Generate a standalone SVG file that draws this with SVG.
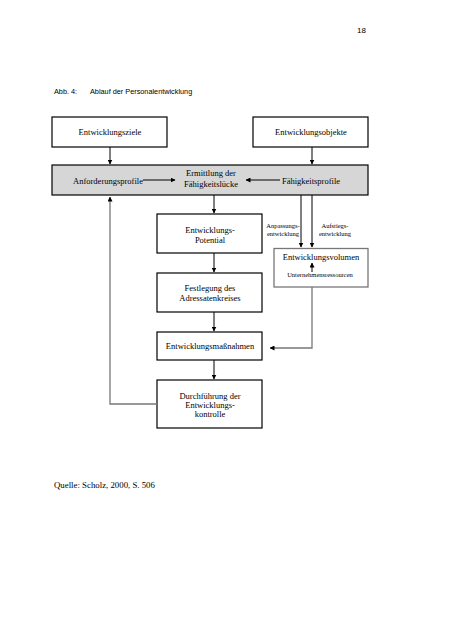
<svg xmlns="http://www.w3.org/2000/svg" width="452" height="640" viewBox="0 0 452 640">
<style>
.box{fill:#fff;stroke:#000;stroke-width:1.2}
.t{font-family:"Liberation Serif","Times New Roman",serif;font-size:8.5px;fill:#000;text-anchor:middle}
.s{font-family:"Liberation Serif","Times New Roman",serif;font-size:6.5px;fill:#000;text-anchor:middle}
.h{font-family:"Liberation Sans",Arial,sans-serif;font-size:7.3px;fill:#000}
.c{fill:none;stroke:#000;stroke-width:1}
.g{fill:none;stroke:#777;stroke-width:1.3}
</style>
<defs>
<marker id="a" viewBox="0 0 10 10" refX="9" refY="5" markerWidth="5" markerHeight="5" orient="auto" markerUnits="userSpaceOnUse">
<path d="M0,0 L10,5 L0,10 z" fill="#000"/>
</marker>
</defs>
<rect width="452" height="640" fill="#fff"/>
<text x="357" y="33" class="h" style="font-size:8px">18</text>
<text x="54" y="94" class="h">Abb. 4:</text>
<text x="90" y="94" class="h">Ablauf der Personalentwicklung</text>

<g id="n-ziele"><rect class="box" x="52" y="117" width="115" height="30"/><text class="t" x="110" y="135">Entwicklungsziele</text></g>
<g id="n-objekte"><rect class="box" x="253" y="117" width="115" height="30"/><text class="t" x="311" y="135">Entwicklungsobjekte</text></g>
<g id="n-gray"><rect x="52" y="165" width="316" height="30" fill="#d6d6d6" stroke="#000" stroke-width="1.2"/></g>
<g id="n-anf"><text class="t" x="108" y="183.5">Anforderungsprofile</text></g>
<g id="n-ermittlung"><text class="t" x="211" y="176">Ermittlung der</text><text class="t" x="211" y="187">Fähigkeitslücke</text></g>
<g id="n-faehig"><text class="t" x="311" y="183.5">Fähigkeitsprofile</text></g>
<g id="n-potential"><rect class="box" x="157" y="214" width="105" height="39"/><text class="t" x="210" y="233">Entwicklungs-</text><text class="t" x="210" y="242.5">Potential</text></g>
<g id="n-festlegung"><rect class="box" x="157" y="273" width="105" height="39"/><text class="t" x="210" y="291">Festlegung des</text><text class="t" x="210" y="301">Adressatenkreises</text></g>
<g id="n-massnahmen"><rect class="box" x="157" y="332" width="105" height="28"/><text class="t" x="210" y="349">Entwicklungsmaßnahmen</text></g>
<g id="n-durch"><rect class="box" x="157" y="380" width="105" height="48"/><text class="t" x="210" y="398.5">Durchführung der</text><text class="t" x="210" y="408">Entwicklungs-</text><text class="t" x="210" y="417">kontrolle</text></g>
<g id="n-volumen"><rect x="274" y="248.5" width="94" height="38.5" fill="#fff" stroke="#777" stroke-width="1.3"/><text class="t" x="321" y="260">Entwicklungsvolumen</text><text class="s" x="320" y="277">Unternehmensressourcen</text></g>
<g id="n-labels"><text class="s" x="283" y="228">Anpassungs-</text><text class="s" x="283" y="236">entwicklung</text><text class="s" x="335" y="228">Aufstiegs-</text><text class="s" x="335" y="236">entwicklung</text></g>

<g id="connectors">
<line class="c" x1="110" y1="147" x2="110" y2="164" marker-end="url(#a)"/>
<line class="c" x1="312" y1="147" x2="312" y2="164" marker-end="url(#a)"/>
<line class="c" x1="143" y1="180" x2="175" y2="180" marker-end="url(#a)"/>
<line class="c" x1="280" y1="180" x2="246" y2="180" marker-end="url(#a)"/>
<line class="c" x1="214" y1="195" x2="214" y2="213" marker-end="url(#a)"/>
<line class="c" x1="301" y1="195" x2="301" y2="247" marker-end="url(#a)"/>
<line class="c" x1="312" y1="195" x2="312" y2="247" marker-end="url(#a)"/>
<line class="c" x1="312" y1="272" x2="312" y2="263" marker-end="url(#a)"/>
<line class="c" x1="214" y1="253" x2="214" y2="272" marker-end="url(#a)"/>
<line class="c" x1="214" y1="312" x2="214" y2="331" marker-end="url(#a)"/>
<line class="c" x1="214" y1="360" x2="214" y2="379" marker-end="url(#a)"/>
<polyline class="g" points="312,287 312,348 270,348" marker-end="url(#a)"/>
<polyline class="g" points="157,404 110,404 110,197" marker-end="url(#a)"/>
</g>
<text x="54" y="488" class="t" style="text-anchor:start;font-size:8.8px">Quelle: Scholz, 2000, S. 506</text>
</svg>
